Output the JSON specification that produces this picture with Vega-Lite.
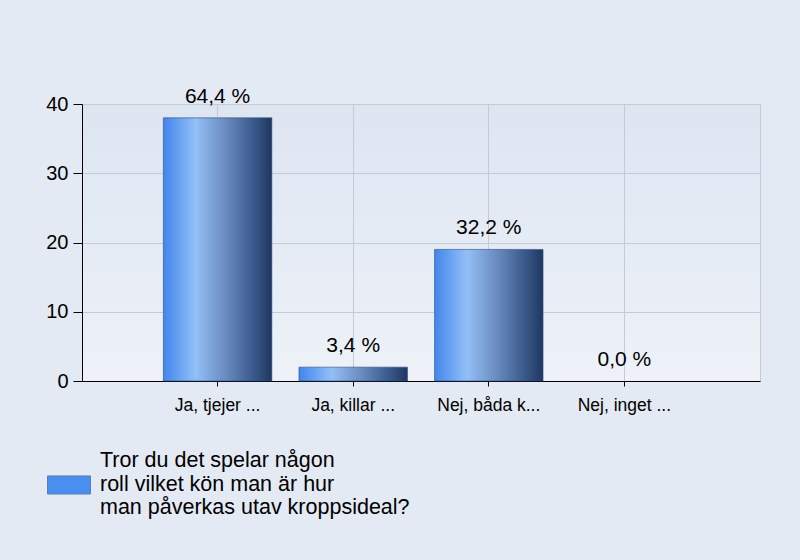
{
  "$schema": "https://vega.github.io/schema/vega-lite/v6.json",
  "width": 678,
  "height": 277,
  "autosize": "none",
  "padding": {"left": 82, "top": 104, "right": 40, "bottom": 179},
  "background": "#e4eaf3",
  "config": {
    "font": "Liberation Sans",
    "view": {
      "stroke": "#c5cbd6",
      "strokeWidth": 1,
      "fill": {"gradient": "linear", "x1": 0, "y1": 0, "x2": 0, "y2": 1, "stops": [{"offset": 0, "color": "#dde5f1"}, {"offset": 1, "color": "#eef2f8"}]}
    }
  },
  "data": {
    "values": [
      {"answer": "Ja, tjejer ...", "count": 38, "pct": "64,4 %", "series": "Tror du det spelar någon|roll vilket kön man är hur|man påverkas utav kroppsideal?"},
      {"answer": "Ja, killar ...", "count": 2, "pct": "3,4 %", "series": "Tror du det spelar någon|roll vilket kön man är hur|man påverkas utav kroppsideal?"},
      {"answer": "Nej, båda k...", "count": 19, "pct": "32,2 %", "series": "Tror du det spelar någon|roll vilket kön man är hur|man påverkas utav kroppsideal?"},
      {"answer": "Nej, inget ...", "count": 0, "pct": "0,0 %", "series": "Tror du det spelar någon|roll vilket kön man är hur|man påverkas utav kroppsideal?"}
    ]
  },
  "encoding": {
    "x": {
      "field": "answer",
      "type": "nominal",
      "sort": null,
      "scale": {"paddingInner": 0.2, "paddingOuter": 0.6},
      "axis": {
        "title": null,
        "labelAngle": 0,
        "labelFontSize": 17.5,
        "labelColor": "#000000",
        "labelPadding": 10,
        "domainColor": "#000000",
        "tickColor": "#000000",
        "tickSize": 5,
        "bandPosition": 0.5,
        "grid": true,
        "gridColor": "#c5cbd6"
      }
    }
  },
  "layer": [
    {
      "transform": [{"filter": "datum.count > 0"}],
      "mark": {
        "type": "bar",
        "stroke": "#2c4a7a",
        "strokeWidth": 0.6,
        "fill": {
          "gradient": "linear", "x1": 0, "y1": 0, "x2": 1, "y2": 0,
          "stops": [
            {"offset": 0, "color": "#4286ec"},
            {"offset": 0.3, "color": "#93bff7"},
            {"offset": 0.55, "color": "#6e90c4"},
            {"offset": 0.8, "color": "#3f5f92"},
            {"offset": 1, "color": "#1f3760"}
          ]
        }
      },
      "encoding": {
        "y": {
          "field": "count",
          "type": "quantitative",
          "scale": {"domain": [0, 40], "nice": false},
          "axis": {
            "title": null,
            "values": [0, 10, 20, 30, 40],
            "labelFontSize": 20,
            "labelColor": "#000000",
            "labelPadding": 5,
            "domainColor": "#000000",
            "tickColor": "#000000",
            "tickSize": 9,
            "gridColor": "#c5cbd6"
          }
        }
      }
    },
    {
      "mark": {"type": "text", "baseline": "alphabetic", "dy": -15, "fontSize": 21, "color": "#000000"},
      "encoding": {
        "y": {"field": "count", "type": "quantitative", "scale": {"domain": [0, 40], "nice": false}},
        "text": {"field": "pct"}
      }
    },
    {
      "mark": {"type": "point", "filled": true, "size": 0, "opacity": 0},
      "encoding": {
        "y": {"field": "count", "type": "quantitative", "scale": {"domain": [0, 40], "nice": false}},
        "fill": {
          "field": "series",
          "type": "nominal",
          "scale": {"range": ["#4a8ef0"]},
          "legend": {
            "title": null,
            "orient": "none",
            "legendX": -35,
            "legendY": 335,
            "symbolType": "M-1,0.696L1,0.696L1,1.536L-1,1.536Z",
            "symbolSize": 1849,
            "symbolOpacity": 1,
            "symbolStrokeColor": "#5b7fb5",
            "symbolStrokeWidth": 1,
            "labelExpr": "split(datum.label, '|')",
            "labelFontSize": 21.5,
            "labelColor": "#000000",
            "labelLimit": 600,
            "labelOffset": 9,
            "labelBaseline": "middle",
            "labelLineHeight": 24
          }
        }
      }
    }
  ]
}
